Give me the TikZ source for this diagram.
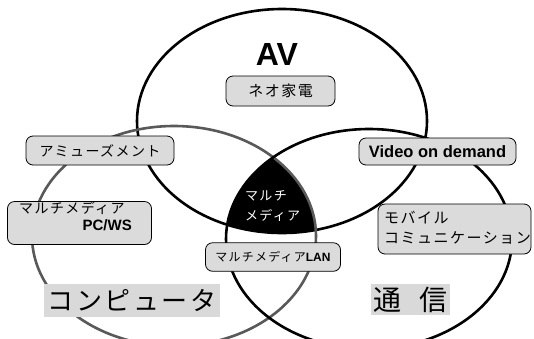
\documentclass[tikz,border=0pt]{standalone}
\usepackage{fontspec}
\setmainfont{Noto Sans CJK JP}
\newfontfamily\jp[LetterSpace=10]{Noto Sans CJK JP}
\newfontfamily\lat{Liberation Sans}
\begin{document}
\begin{tikzpicture}[x=1pt,y=-1pt,
  ring/.style={line width=2.6pt},
  tagbox/.style={draw, line width=0.8pt, rounded corners=7pt, fill=gray!28, inner sep=0pt},
  plate/.style={fill=gray!30, inner sep=0pt},
  jtext/.style={inner sep=0pt, font=\jp\fontsize{14}{16}\selectfont},
]
\useasboundingbox[fill=white] (0,0) rectangle (534,338);
% triple intersection
\begin{scope}
  \clip (282,121) ellipse [x radius=145pt, y radius=112pt];
  \clip (174,236) ellipse [x radius=142pt, y radius=110pt];
  \fill[black] (369,239) ellipse [x radius=143pt, y radius=110pt];
\end{scope}
\draw[ring, black] (282,121) ellipse [x radius=145pt, y radius=112pt];
\draw[ring, black!65] (174,236) ellipse [x radius=142pt, y radius=110pt];
\draw[ring, black] (369,239) ellipse [x radius=143pt, y radius=110pt];

% titles
\node[inner sep=0pt, font=\lat\bfseries\fontsize{32}{34}\selectfont] (av) at (277,54) {AV};
\node[plate, minimum width=176pt, minimum height=33pt, font=\jp\fontsize{26}{28}\selectfont] (comp) at (132,300.5) {コンピュータ};
\node[plate, minimum width=79pt, minimum height=31pt, font=\jp\fontsize{28}{30}\selectfont] (tsu) at (410.5,299.5) {通\hspace{18pt}信};

% boxes
\node[tagbox, minimum width=109pt, minimum height=30pt, font=\jp\fontsize{15}{17}\selectfont] (neo) at (280.5,91) {ネオ家電};
\node[tagbox, minimum width=148pt, minimum height=29pt, font=\jp\fontsize{14}{16}\selectfont] (amuse) at (100,150.5) {アミューズメント};
\node[tagbox, minimum width=144pt, minimum height=43pt] (pcws) at (79.5,223) {};
\node[jtext, anchor=west] (pcws1) at (19,208.5) {マルチメディア};
\node[inner sep=0pt, anchor=east, font=\lat\bfseries\fontsize{15}{17}\selectfont] (pcws2) at (132,225.5) {PC/WS};
\node[tagbox, minimum width=157pt, minimum height=27pt, font=\lat\bfseries\fontsize{16.5}{18}\selectfont] (vod) at (437.5,151.5) {Video on demand};
\node[tagbox, minimum width=153pt, minimum height=50pt] (mob) at (454.5,229) {};
\node[jtext, anchor=west, font=\jp\fontsize{15}{17}\selectfont] (mob1) at (384,217.5) {モバイル};
\node[jtext, anchor=west, font=\jp\fontsize{15}{17}\selectfont] (mob2) at (384,237.5) {コミュニケーション};
\node[tagbox, minimum width=135pt, minimum height=28.5pt, font=\jp\fontsize{12}{14}\selectfont] (lan) at (273,257) {マルチメディア{\lat\bfseries LAN}};

% center text
\node[jtext, anchor=west, text=white, font=\jp\fontsize{13}{15}\selectfont] (mm1) at (245,196) {マルチ};
\node[jtext, anchor=west, text=white, font=\jp\fontsize{13}{15}\selectfont] (mm2) at (245,215) {メディア};
\end{tikzpicture}
\end{document}
